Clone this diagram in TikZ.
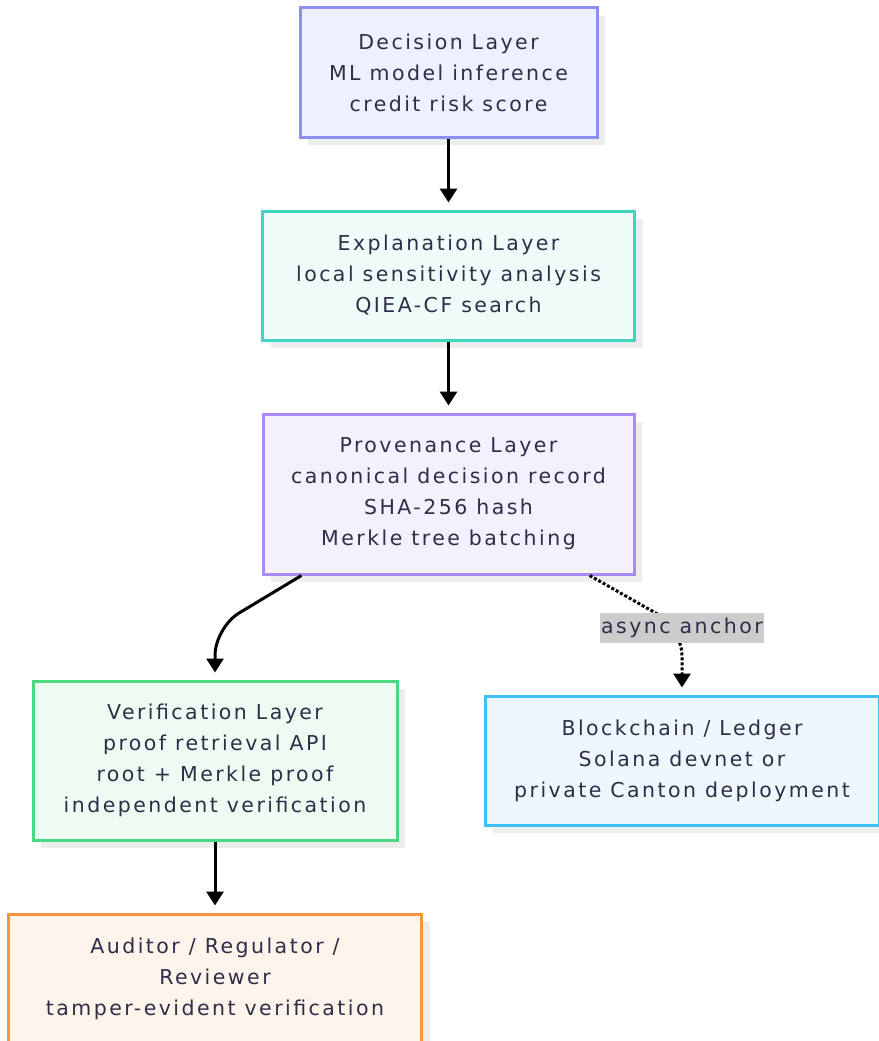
\documentclass[tikz,border=0pt]{standalone}
\usepackage{fontspec}
\setmainfont{DejaVu Sans}[LetterSpace=12]
\usetikzlibrary{arrows.meta,shadows}
\definecolor{txt}{HTML}{2E2E48}
\definecolor{decfill}{HTML}{EEF0FD}\definecolor{decline}{HTML}{8C8FF0}
\definecolor{expfill}{HTML}{EFFBF8}\definecolor{expline}{HTML}{3ED6BF}
\definecolor{profill}{HTML}{F4F0FE}\definecolor{proline}{HTML}{A98BF5}
\definecolor{verfill}{HTML}{EEFBF2}\definecolor{verline}{HTML}{4AD97F}
\definecolor{blkfill}{HTML}{EEF6FE}\definecolor{blkline}{HTML}{3CC0F5}
\definecolor{audfill}{HTML}{FEF4EB}\definecolor{audline}{HTML}{F7953E}
\definecolor{lblfill}{HTML}{CCCCCC}
\begin{document}
\begin{tikzpicture}[x=1pt,y=-1pt,
    layer/.style={draw,line width=3pt,align=center,text=txt,inner sep=0pt,
        font=\fontsize{20.5}{31}\selectfont,
        drop shadow={shadow xshift=8pt,shadow yshift=-8pt,fill=black!7,opacity=1}},
    flow/.style={line width=3pt,-{Triangle[width=17pt,length=14pt]},shorten >=7pt,rounded corners=28pt},
    async/.style={flow,dotted}]
    \useasboundingbox (0,0) rectangle (878,1041);

    \node[layer,fill=decfill,draw=decline,minimum width=297pt,minimum height=129pt] (dec) at (448.5,72.5)
        {Decision Layer\\ML model inference\\credit risk score};
    \node[layer,fill=expfill,draw=expline,minimum width=372pt,minimum height=129pt] (expl) at (448.5,275.5)
        {Explanation Layer\\local sensitivity analysis\\QIEA-CF search};
    \node[layer,fill=profill,draw=proline,minimum width=371pt,minimum height=160pt] (prov) at (448.5,494)
        {Provenance Layer\\canonical decision record\\SHA-256 hash\\Merkle tree batching};
    \node[layer,fill=verfill,draw=verline,minimum width=364pt,minimum height=159pt] (ver) at (215,760.5)
        {Verification Layer\\proof retrieval API\\root + Merkle proof\\independent verification};
    \node[layer,fill=blkfill,draw=blkline,minimum width=394pt,minimum height=129pt] (blk) at (682,760.5)
        {Blockchain / Ledger\\Solana devnet or\\private Canton deployment};
    \node[layer,fill=audfill,draw=audline,minimum width=413pt,minimum height=129pt] (aud) at (215,978.5)
        {Auditor / Regulator /\\Reviewer\\tamper-evident verification};

    \draw[flow] (dec) -- (expl);
    \draw[flow] (expl) -- (prov);
    \draw[flow] (prov.-151) -- ([yshift=52pt]ver.north) -- (ver.north);
    \draw[async] (prov.-30) -- (682,628) -- (blk.north);
    \node[fill=lblfill,text=txt,inner sep=1pt,minimum height=30pt,font=\fontsize{20.5}{23}\selectfont] (lbl) at (682,628) {async anchor};
    \draw[flow] (ver) -- (aud);
\end{tikzpicture}
\end{document}
